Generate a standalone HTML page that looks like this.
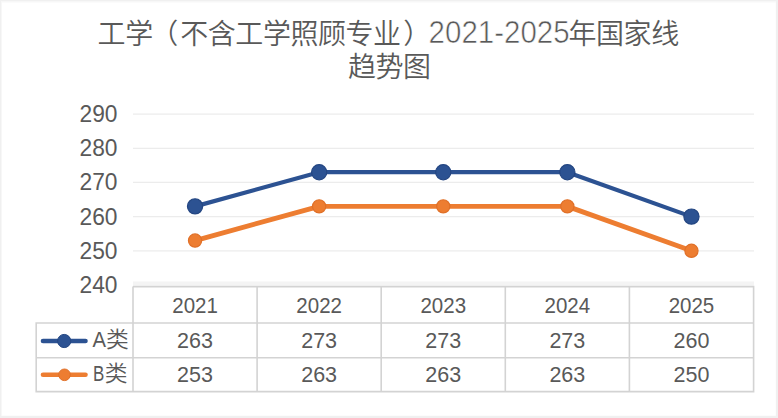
<!DOCTYPE html>
<html>
<head>
<meta charset="utf-8">
<style>
html,body{margin:0;padding:0;background:#fff;}
body{width:778px;height:418px;overflow:hidden;position:relative;}
svg{display:block;position:absolute;left:0;top:0;}
text{font-family:"Liberation Sans","Noto Sans CJK SC",sans-serif;fill:#595959;}
.cj{font-weight:350;}
</style>
</head>
<body>
<svg width="778" height="418" viewBox="0 0 778 418">
<rect x="0" y="0" width="778" height="418" fill="#f0f0f0"/>
<rect x="1" y="1" width="775" height="415" fill="#f7f7f7"/>
<rect x="2" y="2.5" width="773.7" height="413.1" fill="#ffffff"/>
<text class="cj" x="97.60" y="44.40" font-size="28" letter-spacing="-0.45">工学<tspan dx="-2.5">（</tspan><tspan dx="2.5">不含工学照顾专业</tspan><tspan dx="2.5">）</tspan></text>
<text x="428.60" y="42.90" font-size="31.5" textLength="141.00" lengthAdjust="spacingAndGlyphs" stroke="#fff" stroke-width="0.6">2021-2025</text>
<text class="cj" x="568.50" y="44.40" font-size="28" letter-spacing="-0.45">年国家线</text>
<text class="cj" x="348.00" y="76.6" font-size="28" letter-spacing="-0.45">趋势图</text>
<g stroke="#ececec" stroke-width="1.3">
<line x1="133" y1="114.11" x2="754" y2="114.11"/>
<line x1="133" y1="148.28" x2="754" y2="148.28"/>
<line x1="133" y1="182.45" x2="754" y2="182.45"/>
<line x1="133" y1="216.62" x2="754" y2="216.62"/>
<line x1="133" y1="250.79" x2="754" y2="250.79"/>
<line x1="133" y1="283.5" x2="754" y2="283.5" stroke="#f4f4f4" stroke-width="4"/>
</g>
<g font-size="23.5" text-anchor="end">
<text x="117.5" y="121.91" textLength="38" lengthAdjust="spacingAndGlyphs">290</text>
<text x="117.5" y="156.20" textLength="38" lengthAdjust="spacingAndGlyphs">280</text>
<text x="117.5" y="190.49" textLength="38" lengthAdjust="spacingAndGlyphs">270</text>
<text x="117.5" y="224.78" textLength="38" lengthAdjust="spacingAndGlyphs">260</text>
<text x="117.5" y="259.07" textLength="38" lengthAdjust="spacingAndGlyphs">250</text>
<text x="117.5" y="293.36" textLength="38" lengthAdjust="spacingAndGlyphs">240</text>
</g>
<g stroke="#d3d3d3" stroke-width="1.6" fill="none">
<path d="M133 286.6 H753.6 V391.6 H36.2 V323 H753.6 M36.2 357.8 H753.6"/>
<path d="M133.0 286.6 V391.6 M257.1 286.6 V391.6 M381.2 286.6 V391.6 M505.3 286.6 V391.6 M629.4 286.6 V391.6"/>
</g>
<g font-size="21.5" text-anchor="middle">
<text x="195.05" y="312.90" textLength="45.6" lengthAdjust="spacingAndGlyphs">2021</text>
<text x="195.05" y="348.30">263</text>
<text x="195.05" y="381.90">253</text>
<text x="319.15" y="312.90" textLength="45.6" lengthAdjust="spacingAndGlyphs">2022</text>
<text x="319.15" y="348.30">273</text>
<text x="319.15" y="381.90">263</text>
<text x="443.25" y="312.90" textLength="45.6" lengthAdjust="spacingAndGlyphs">2023</text>
<text x="443.25" y="348.30">273</text>
<text x="443.25" y="381.90">263</text>
<text x="567.35" y="312.90" textLength="45.6" lengthAdjust="spacingAndGlyphs">2024</text>
<text x="567.35" y="348.30">273</text>
<text x="567.35" y="381.90">263</text>
<text x="691.45" y="312.90" textLength="45.6" lengthAdjust="spacingAndGlyphs">2025</text>
<text x="691.45" y="348.30">260</text>
<text x="691.45" y="381.90">250</text>
</g>
<line x1="43" y1="341" x2="85.5" y2="341" stroke="#2c5292" stroke-width="4.6" stroke-linecap="round"/>
<circle cx="64.2" cy="341" r="6.6" fill="#2c5292" stroke="#244682" stroke-width="1"/>
<line x1="43" y1="374.8" x2="85.5" y2="374.8" stroke="#ed7d31" stroke-width="4.6" stroke-linecap="round"/>
<circle cx="64.5" cy="374.8" r="5.8" fill="#ed7d31" stroke="#e07028" stroke-width="1"/>
<g font-size="21.5" class="cj">
<text x="92.4" y="346.9" textLength="13.5" lengthAdjust="spacingAndGlyphs">A</text>
<text x="93" y="381.1" textLength="11.3" lengthAdjust="spacingAndGlyphs">B</text>
<text x="105.9" y="346.9" textLength="22.8" lengthAdjust="spacingAndGlyphs">类</text>
<text x="104.8" y="380.9" textLength="22.8" lengthAdjust="spacingAndGlyphs">类</text>
</g>
<polyline points="195.05,206.37 319.15,172.20 443.25,172.20 567.35,172.20 691.45,216.62" fill="none" stroke="#2c5292" stroke-width="4.2" stroke-linejoin="round"/>
<circle cx="195.05" cy="206.37" r="7.6" fill="#2c5292" stroke="#244682" stroke-width="1.2"/>
<circle cx="319.15" cy="172.20" r="7.6" fill="#2c5292" stroke="#244682" stroke-width="1.2"/>
<circle cx="443.25" cy="172.20" r="7.6" fill="#2c5292" stroke="#244682" stroke-width="1.2"/>
<circle cx="567.35" cy="172.20" r="7.6" fill="#2c5292" stroke="#244682" stroke-width="1.2"/>
<circle cx="691.45" cy="216.62" r="7.6" fill="#2c5292" stroke="#244682" stroke-width="1.2"/>
<polyline points="195.05,240.54 319.15,206.37 443.25,206.37 567.35,206.37 691.45,250.79" fill="none" stroke="#ed7d31" stroke-width="4.9" stroke-linejoin="round"/>
<circle cx="195.05" cy="240.54" r="6.6" fill="#ed7d31" stroke="#e07028" stroke-width="1.2"/>
<circle cx="319.15" cy="206.37" r="6.6" fill="#ed7d31" stroke="#e07028" stroke-width="1.2"/>
<circle cx="443.25" cy="206.37" r="6.6" fill="#ed7d31" stroke="#e07028" stroke-width="1.2"/>
<circle cx="567.35" cy="206.37" r="6.6" fill="#ed7d31" stroke="#e07028" stroke-width="1.2"/>
<circle cx="691.45" cy="250.79" r="6.6" fill="#ed7d31" stroke="#e07028" stroke-width="1.2"/>
</svg>
</body>
</html>
